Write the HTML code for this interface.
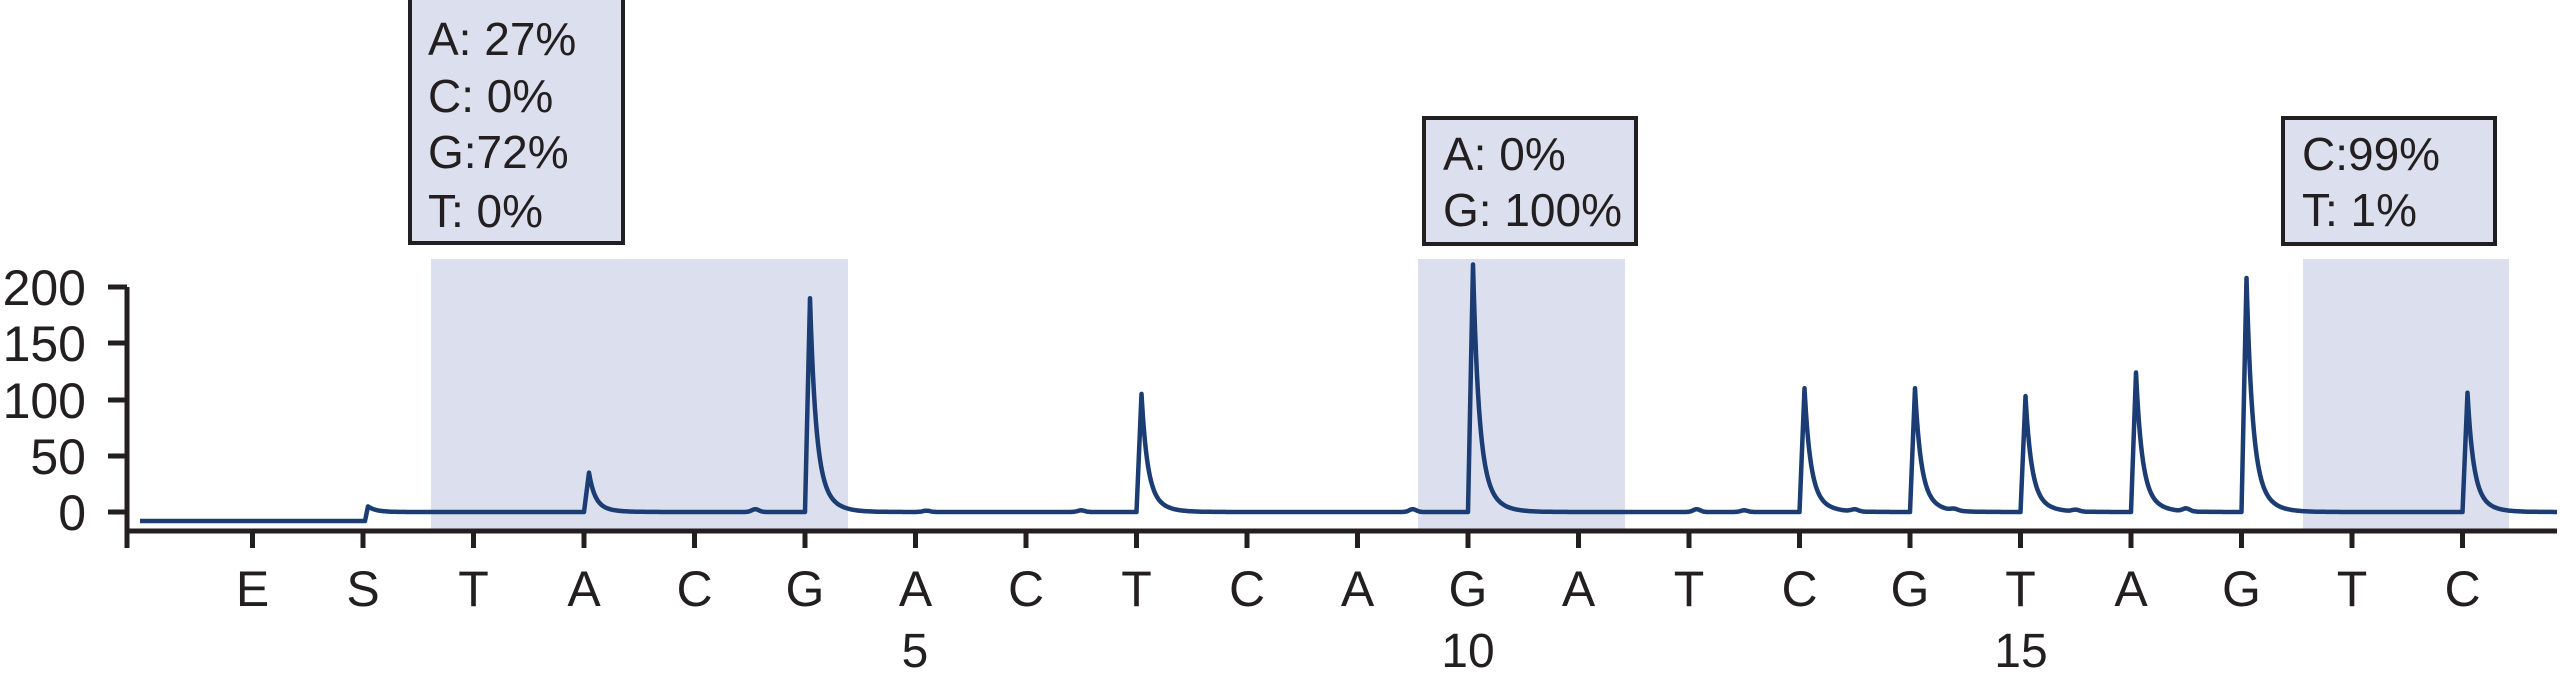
<!DOCTYPE html>
<html><head><meta charset="utf-8"><style>
html,body{margin:0;padding:0;background:#fff;}
svg{display:block;}
text{font-family:"Liberation Sans",sans-serif;fill:#231f20;}
</style></head><body>
<svg id="s" width="2560" height="680" viewBox="0 0 2560 680" xmlns="http://www.w3.org/2000/svg">
<rect x="431" y="259" width="417" height="272" fill="#dcdfee"/>
<rect x="1418" y="259" width="207" height="272" fill="#dcdfee"/>
<rect x="2303" y="259" width="206" height="272" fill="#dcdfee"/>
<rect x="410" y="-2" width="213" height="245" fill="#dcdfee" stroke="#231f20" stroke-width="4"/>
<rect x="1424" y="118" width="212" height="126" fill="#dcdfee" stroke="#231f20" stroke-width="4"/>
<rect x="2283" y="118" width="212" height="126" fill="#dcdfee" stroke="#231f20" stroke-width="4"/>
<g font-size="46">
<text x="428" y="55">A: 27%</text>
<text x="428" y="112">C: 0%</text>
<text x="428" y="168">G:72%</text>
<text x="428" y="227">T:  0%</text>
<text x="1443" y="170">A: 0%</text>
<text x="1443" y="226">G: 100%</text>
<text x="2302" y="170">C:99%</text>
<text x="2302" y="226">T:  1%</text>
</g>
<g stroke="#231f20" stroke-width="5" fill="none">
<path d="M127 287 V548 M125 531 H2557"/>
<path d="M108 287H127 M108 343H127 M108 400H127 M108 456H127 M108 512H127"/>
<g id="ticks"></g>
</g>
<g font-size="50" text-anchor="end">
<text x="86" y="305">200</text>
<text x="86" y="361">150</text>
<text x="86" y="418">100</text>
<text x="86" y="474">50</text>
<text x="86" y="530">0</text>
</g>
<g id="labs" font-size="50" text-anchor="middle"></g>
<g font-size="48" text-anchor="middle">
<text x="915" y="667">5</text>
<text x="1468" y="667">10</text>
<text x="2021" y="667">15</text>
</g>
<path id="trace" fill="none" stroke="#1b3d73" stroke-width="4.5" stroke-linejoin="round"/>
</svg>
<script>
var NS="http://www.w3.org/2000/svg";
var seq="ESTACGACTCAGATCGTAGTC";
function X(i){return 252.5+110.5*i;}
var t=document.getElementById("ticks"),l=document.getElementById("labs");
for(var i=0;i<21;i++){
 var p=document.createElementNS(NS,"path");p.setAttribute("d","M"+X(i)+" 531V548");t.appendChild(p);
 var tx=document.createElementNS(NS,"text");tx.setAttribute("x",X(i));tx.setAttribute("y",606);tx.textContent=seq[i];l.appendChild(tx);
}
var peaks=[[3,35],[5,190],[8,105],[11,220],[14,110],[15,110],[16,103],[17,124],[18,208],[20,106]];
var bumps=[[4.55,2.5],[6.1,1.2],[7.5,1.5],[10.5,2.5],[13.07,2.5],[13.5,1.5],[14.5,1.8],[15.4,1.5],[16.5,1.5],[17.5,2.5]];
var xs=[];
for(var x=140;x<=2557;x+=1)xs.push(x);
for(var k=0;k<peaks.length;k++){xs.push(X(peaks[k][0]));xs.push(X(peaks[k][0])+5);}
xs.sort(function(a,b){return a-b;});
var d="";
xs.forEach(function(x){
 var v;
 if(x<X(1)+2){v=-8;}else{
  var tt=x-(X(1)+2);
  v=(tt<3)?(-8+(tt/3)*13):5*Math.exp(-(tt-3)/8);
 }
 for(var k=0;k<peaks.length;k++){
  var px=X(peaks[k][0]),H=peaks[k][1],q=x-px;
  if(q>=0&&q<5)v+=H*q/5;
  else if(q>=5)v+=H*(0.72*Math.exp(-(q-5)/5.5)+0.28*Math.exp(-(q-5)/13));
 }
 for(var k=0;k<bumps.length;k++){
  var bx=X(bumps[k][0]);v+=bumps[k][1]*Math.exp(-Math.pow((x-bx)/5,2));
 }
 var y=512-v*1.125;
 d+=(d?"L":"M")+x.toFixed(2)+" "+y.toFixed(1);
});
document.getElementById("trace").setAttribute("d",d);
</script>
</body></html>
